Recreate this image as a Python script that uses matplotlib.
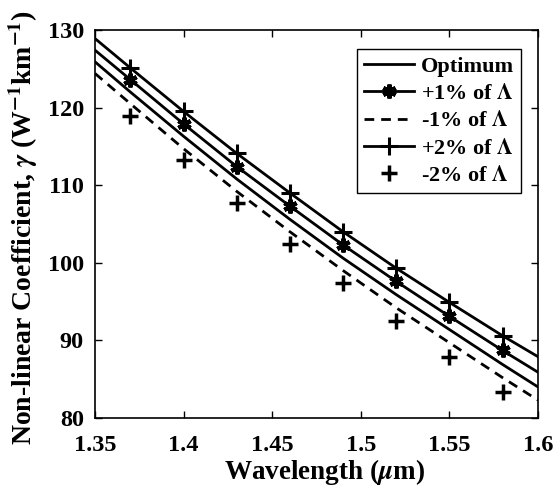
import matplotlib
matplotlib.use("Agg")
import matplotlib.pyplot as plt

plt.rcParams['font.family'] = ['Liberation Serif', 'DejaVu Serif']
plt.rcParams['font.weight'] = 'bold'
plt.rcParams['mathtext.fontset'] = 'stix'

wavelength = [1.35, 1.37, 1.40, 1.43, 1.46, 1.49, 1.52, 1.55, 1.58, 1.60]
plus2 = [128.9, 125.1, 119.5, 114.1, 109.0, 104.0, 99.3, 94.9, 90.6, 87.9]
plus1 = [127.4, 123.6, 117.9, 112.4, 107.3, 102.3, 97.6, 93.1, 88.7, 85.9]
optimum = [125.9, 122.0, 116.3, 110.8, 105.6, 100.6, 95.9, 91.4, 86.9, 84.0]
minus1 = [124.4, 120.5, 114.7, 109.2, 104.0, 99.0, 94.2, 89.7, 85.2, 82.3]
marker_wl = [1.37, 1.40, 1.43, 1.46, 1.49, 1.52, 1.55, 1.58]
minus2 = [118.9, 113.2, 107.7, 102.4, 97.4, 92.5, 87.9, 83.4]

xticks = [1.35, 1.4, 1.45, 1.5, 1.55, 1.6]
xticklabels = ['1.35', '1.4', '1.45', '1.5', '1.55', '1.6']
yticks = [80, 90, 100, 110, 120, 130]

fig = plt.figure(figsize=(5.55, 4.9), dpi=100)
ax = fig.add_axes([95/555, 1-418/490, (538-95)/555, (418-30)/490])

me = list(range(1, 9))
ax.plot(wavelength, optimum, color='black', lw=2, label='Optimum')
ax.plot(wavelength, plus1, color='black', lw=2, marker=(6, 2, 0), ms=10, mew=3,
        markevery=me, label='+1% of $\\mathbf{\\Lambda}$')
ax.plot(wavelength, minus1, color='black', lw=2, ls=(0, (3.5, 2.5)),
        label='-1% of $\\mathbf{\\Lambda}$')
ax.plot(wavelength, plus2, color='black', lw=2, marker='+', ms=13, mew=2.2,
        markevery=me, label='+2% of $\\mathbf{\\Lambda}$')
ax.plot(marker_wl, minus2, color='black', ls='none', marker='+', ms=11, mew=2.5,
        label='-2% of $\\mathbf{\\Lambda}$')

ax.set_xlim(1.35, 1.6)
ax.set_ylim(80, 130)
ax.set_xticks(xticks)
ax.set_xticklabels(xticklabels)
ax.set_yticks(yticks)
ax.tick_params(direction='in', top=True, right=True, labelsize=17.5, length=5, width=1)
ax.tick_params(axis='x', pad=12)
ax.tick_params(axis='y', pad=8)
for lab in ax.get_xticklabels() + ax.get_yticklabels():
    lab.set_fontweight('bold')
for s in ax.spines.values():
    s.set_linewidth(1.2)

ax.set_xlabel('Wavelength ($\\mu$m)', fontsize=19.5, fontweight='bold')
ax.set_ylabel('Non-linear Coefficient, $\\gamma$ (W$^{-1}$km$^{-1}$)', fontsize=20,
              fontweight='bold')
ax.xaxis.set_label_coords(0.518, -0.1)
ax.yaxis.set_label_coords(-0.124, 0.49)

leg = ax.legend(loc='upper right', bbox_to_anchor=((521-95)/443, (418-49)/388), fontsize=16,
                handlelength=2.25, handletextpad=0.3, borderpad=0.33, labelspacing=0.3,
                fancybox=False, framealpha=1, borderaxespad=0)
leg.get_frame().set_edgecolor('black')
leg.get_frame().set_linewidth(1)
for t in leg.get_texts():
    t.set_fontweight('bold')

fig.savefig('out.png', dpi=100)
